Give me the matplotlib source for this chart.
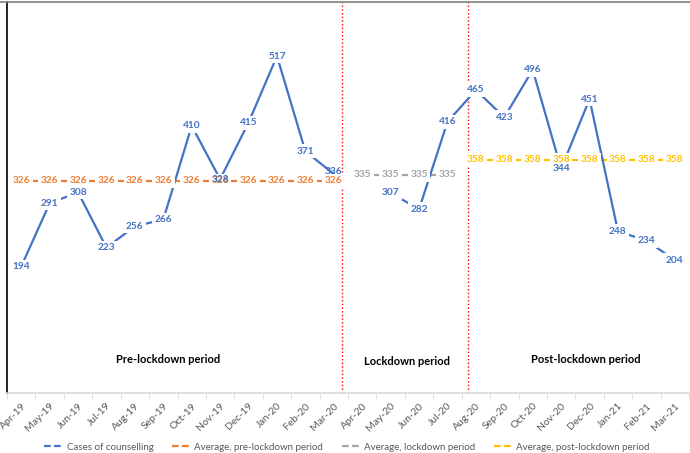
import numpy as np
import matplotlib.pyplot as plt
from matplotlib.lines import Line2D

plt.rcParams['font.family'] = ['Lato', 'DejaVu Sans']

months = ['Apr-19', 'May-19', 'Jun-19', 'Jul-19', 'Aug-19', 'Sep-19', 'Oct-19', 'Nov-19',
          'Dec-19', 'Jan-20', 'Feb-20', 'Mar-20', 'Apr-20', 'May-20', 'Jun-20', 'Jul-20',
          'Aug-20', 'Sep-20', 'Oct-20', 'Nov-20', 'Dec-20', 'Jan-21', 'Feb-21', 'Mar-21']
cases = [194, 291, 308, 223, 256, 266, 410, 328, 415, 517, 371, 336,
         None, 307, 282, 416, 465, 423, 496, 344, 451, 248, 234, 204]
avg_pre = 326
avg_lock = 335
avg_post = 358
pre_idx = list(range(0, 12))
lock_idx = list(range(12, 16))
post_idx = list(range(16, 24))

blue = '#4472C4'
orange = '#ED7D31'
grey = '#A5A5A5'
yellow = '#FFC000'

fig = plt.figure(figsize=(6.9, 4.53), dpi=100)
ax = fig.add_axes([7 / 690, 60 / 453, 682 / 690, 391 / 453])

x = np.arange(len(months))
y = np.array([np.nan if v is None else v for v in cases], dtype=float)

lw = 1.6
ax.plot(pre_idx, [avg_pre] * len(pre_idx), color=orange, lw=lw, zorder=2)
ax.plot(lock_idx, [avg_lock] * len(lock_idx), color=grey, lw=lw, zorder=2)
ax.plot(post_idx, [avg_post] * len(post_idx), color=yellow, lw=lw, zorder=2)
ax.plot(x, y, color=blue, lw=lw, zorder=3)

box = dict(boxstyle='square,pad=0.25', fc='white', ec='none')
fs = 7.3
for idx, col, val in [(pre_idx, orange, avg_pre), (lock_idx, grey, avg_lock), (post_idx, yellow, avg_post)]:
    for i in idx:
        ax.text(i, val, str(val), color=col, fontsize=fs, fontweight='bold',
                ha='center', va='center', bbox=box, zorder=4)
for i, v in enumerate(cases):
    if v is None:
        continue
    b = None if i in (7, 11) else box
    ax.text(i, v + (4 if i == 11 else 0), str(v), color=blue, fontsize=fs, fontweight='bold',
            ha='center', va='center', bbox=b, zorder=5)

# period separators
ax.axvline(11.3, color='red', ls=':', lw=1.0, zorder=1)
ax.axvline(15.71, color='red', ls=':', lw=1.0, zorder=1)

ax.text(5.18, 51, 'Pre-lockdown period', fontsize=8, fontweight='bold', ha='center', va='center')
ax.text(13.57, 48, 'Lockdown period', fontsize=8, fontweight='bold', ha='center', va='center')
ax.text(19.88, 51, 'Post-lockdown period', fontsize=8, fontweight='bold', ha='center', va='center')

ax.set_xlim(-0.5, 23.5)
ax.set_ylim(0, 600)
ax.set_yticks([])
ax.set_xticks(x)
ax.set_xticklabels(months, rotation=45, ha='right', rotation_mode='anchor',
                   fontsize=7.5, color='#595959')
ax.set_xticks(np.arange(-0.5, 24, 1), minor=True)
ax.tick_params(axis='x', which='major', length=0, pad=6)
ax.tick_params(axis='x', which='minor', length=4, color='#D9D9D9')

for s in ['top', 'right']:
    ax.spines[s].set_visible(False)
ax.spines['left'].set_color('black')
ax.spines['left'].set_linewidth(1.2)
ax.spines['bottom'].set_color('#D9D9D9')
ax.spines['bottom'].set_linewidth(1.2)
fig.add_artist(Line2D([0, 1], [451 / 453, 451 / 453], color='#808080', lw=1.2))

handles = [Line2D([], [], color=c, lw=lw, ls=(0, (3, 1.5))) for c in [blue, orange, grey, yellow]]
labels = ['Cases of counselling', 'Average, pre-lockdown period',
          'Average, lockdown period', 'Average, post-lockdown period']
fig.legend(handles, labels, loc='center', bbox_to_anchor=(0.503, 6 / 453),
           ncol=4, frameon=False, fontsize=7, labelcolor='#595959',
           handlelength=2.0, handletextpad=0.3, columnspacing=1.9)

fig.savefig('out.png', dpi=100)
